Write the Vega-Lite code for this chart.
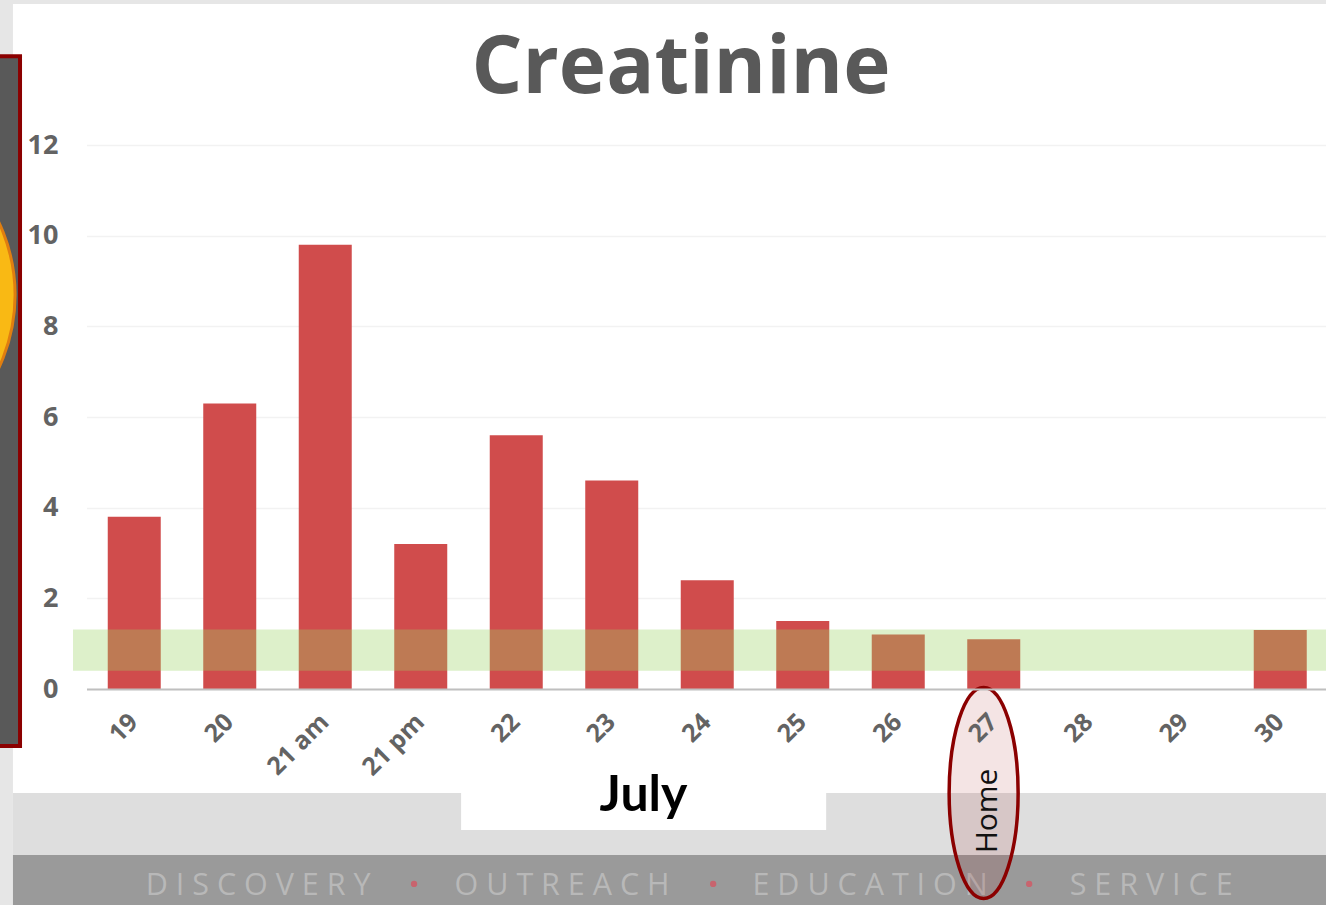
{
"$schema":"https://vega.github.io/schema/vega-lite/v6.json",
"width":1240,"height":544,
"autosize":{"type":"none"},
"padding":{"left":86,"top":145,"right":0,"bottom":216},
"background":"white",
"config":{"view":{"stroke":null}},
"title":{"text":"Creatinine","font":"Open Sans","fontWeight":"bold","fontSize":80,"color":"#595959","anchor":"middle","frame":"group","baseline":"alphabetic","offset":-173,"dx":-25},
"datasets":{
"creatinine":[
{"day":"19","value":3.8},{"day":"20","value":6.3},{"day":"21 am","value":9.8},{"day":"21 pm","value":3.2},{"day":"22","value":5.6},{"day":"23","value":4.6},{"day":"24","value":2.4},{"day":"25","value":1.5},{"day":"26","value":1.2},{"day":"27","value":1.1},{"day":"28"},{"day":"29"},{"day":"30","value":1.3}],
"page":[
{"part":"edge","x0":-1,"x1":-0.764,"y0":15.2,"y1":-4.765},
{"part":"edge","x0":-1,"x1":13,"y0":15.2,"y1":15.11},
{"part":"strip","x0":-0.764,"x1":13,"y0":-2.294,"y1":-3.662},
{"part":"footer","x0":-0.764,"x1":13,"y0":-3.662,"y1":-4.765},
{"part":"label","x0":3.923,"x1":7.741,"y0":-2.294,"y1":-3.11}],
"panel":[{"x0":-1,"x1":-0.69,"y0":13.96,"y1":-1.257}],
"badge":[{"x0":-2.53,"y0":8.69}],
"range":[{"x0":-0.136,"x1":13,"y0":0.4,"y1":1.31}],
"home":[{"x0":9.388,"y0":-2.294}],
"homeText":[{"x0":9.436,"y0":-2.69,"text":"Home"}],
"footerText":[{"x0":1.80,"y0":-4.34,"text":"D I S C O V E R Y"},{"x0":4.979,"y0":-4.34,"text":"O U T R E A C H"},{"x0":8.20,"y0":-4.34,"text":"E D U C A T I O N"},{"x0":11.14,"y0":-4.34,"text":"S E R V I C E"}],
"dots":[{"x0":3.431,"y0":-4.3},{"x0":6.559,"y0":-4.3},{"x0":9.864,"y0":-4.3}]
},
"resolve":{"scale":{"x":"independent","y":"independent","color":"independent"},"axis":{"x":"independent","y":"independent"}},
"layer":[
{"data":{"name":"page"},"mark":{"type":"rect"},
"encoding":{
"x":{"field":"x0","type":"quantitative","scale":{"domain":[0,13],"range":[0,1243],"nice":false,"zero":false},"axis":null},
"x2":{"field":"x1"},
"y":{"field":"y0","type":"quantitative","scale":{"domain":[0,12],"nice":false,"zero":false},"axis":null},
"y2":{"field":"y1"},
"color":{"field":"part","type":"nominal","legend":null,"scale":{"domain":["edge","strip","footer","label"],"range":["#E6E6E6","#DEDEDE","#9A9A9A","#FFFFFF"]}}}},
{"data":{"name":"panel"},"mark":{"type":"rect","fill":"#595959","stroke":"#8B0000","strokeWidth":4},
"encoding":{
"x":{"field":"x0","type":"quantitative","scale":{"domain":[0,13],"range":[0,1243],"nice":false,"zero":false},"axis":null},
"x2":{"field":"x1"},
"y":{"field":"y0","type":"quantitative","scale":{"domain":[0,12],"nice":false,"zero":false},"axis":null},
"y2":{"field":"y1"}}},
{"data":{"name":"badge"},"mark":{"type":"point","shape":"circle","filled":true,"fill":"#F9B914","fillOpacity":1,"stroke":"#E07E10","strokeOpacity":1,"strokeWidth":3,"size":116964},
"encoding":{
"x":{"field":"x0","type":"quantitative","scale":{"domain":[0,13],"range":[0,1243],"nice":false,"zero":false},"axis":null},
"y":{"field":"y0","type":"quantitative","scale":{"domain":[0,12],"nice":false,"zero":false},"axis":null}}},
{"data":{"name":"creatinine"},"mark":{"type":"bar","color":"#D04C4C"},
"encoding":{
"x":{"field":"day","type":"nominal","sort":null,"scale":{"domain":["19","20","21 am","21 pm","22","23","24","25","26","27","28","29","30"],"range":[0.5,1242],"paddingInner":0.445,"paddingOuter":0.2225},
"axis":{"title":"July","titleFont":"Lato","titleFontWeight":"bold","titleFontSize":50,"titleColor":"#000000","titleX":557,"titleY":121,"titleAlign":"center","titleBaseline":"alphabetic","labelAngle":-45,"labelFont":"Open Sans","labelFontWeight":"bold","labelFontSize":25,"labelColor":"#636363","labelPadding":20,"labelOffset":-9,"labelOverlap":false,"ticks":false,"domainColor":"#BFBFBF","domainWidth":2,"grid":false,"zindex":1}},
"y":{"field":"value","type":"quantitative","scale":{"domain":[0,12],"nice":false,"zero":false},
"axis":{"title":null,"values":[0,2,4,6,8,10,12],"labelFont":"Open Sans","labelFontWeight":"bold","labelFontSize":27,"labelColor":"#636363","labelPadding":28,"ticks":false,"domain":false,"grid":true,"gridColor":"#F2F2F2","gridWidth":1.5}}}},
{"data":{"name":"range"},"mark":{"type":"rect","fill":"#9CD464","fillOpacity":0.34},
"encoding":{
"x":{"field":"x0","type":"quantitative","scale":{"domain":[0,13],"range":[0,1243],"nice":false,"zero":false},"axis":null},
"x2":{"field":"x1"},
"y":{"field":"y0","type":"quantitative","scale":{"domain":[0,12],"nice":false,"zero":false},"axis":null},
"y2":{"field":"y1"}}},
{"data":{"name":"footerText"},"mark":{"type":"text","font":"Open Sans","fontSize":30.5,"color":"#B8B8B8","baseline":"middle","align":"center"},
"encoding":{
"x":{"field":"x0","type":"quantitative","scale":{"domain":[0,13],"range":[0,1243],"nice":false,"zero":false},"axis":null},
"y":{"field":"y0","type":"quantitative","scale":{"domain":[0,12],"nice":false,"zero":false},"axis":null},
"text":{"field":"text"}}},
{"data":{"name":"dots"},"mark":{"type":"point","shape":"circle","filled":true,"color":"#C8646E","size":40,"opacity":1},
"encoding":{
"x":{"field":"x0","type":"quantitative","scale":{"domain":[0,13],"range":[0,1243],"nice":false,"zero":false},"axis":null},
"y":{"field":"y0","type":"quantitative","scale":{"domain":[0,12],"nice":false,"zero":false},"axis":null}}},
{"data":{"name":"home"},"mark":{"type":"point","shape":"M0,-1 A0.327,1 0 1,1 0,1 A0.327,1 0 1,1 0,-1 Z","filled":true,"fill":"#A52020","fillOpacity":0.12,"stroke":"#8B0000","strokeOpacity":1,"strokeWidth":3.5,"size":44521},
"encoding":{
"x":{"field":"x0","type":"quantitative","scale":{"domain":[0,13],"range":[0,1243],"nice":false,"zero":false},"axis":null},
"y":{"field":"y0","type":"quantitative","scale":{"domain":[0,12],"nice":false,"zero":false},"axis":null}}},
{"data":{"name":"homeText"},"mark":{"type":"text","font":"Open Sans","fontSize":30,"color":"#111111","angle":270,"baseline":"middle","align":"center"},
"encoding":{
"x":{"field":"x0","type":"quantitative","scale":{"domain":[0,13],"range":[0,1243],"nice":false,"zero":false},"axis":null},
"y":{"field":"y0","type":"quantitative","scale":{"domain":[0,12],"nice":false,"zero":false},"axis":null},
"text":{"field":"text"}}}
]
}
